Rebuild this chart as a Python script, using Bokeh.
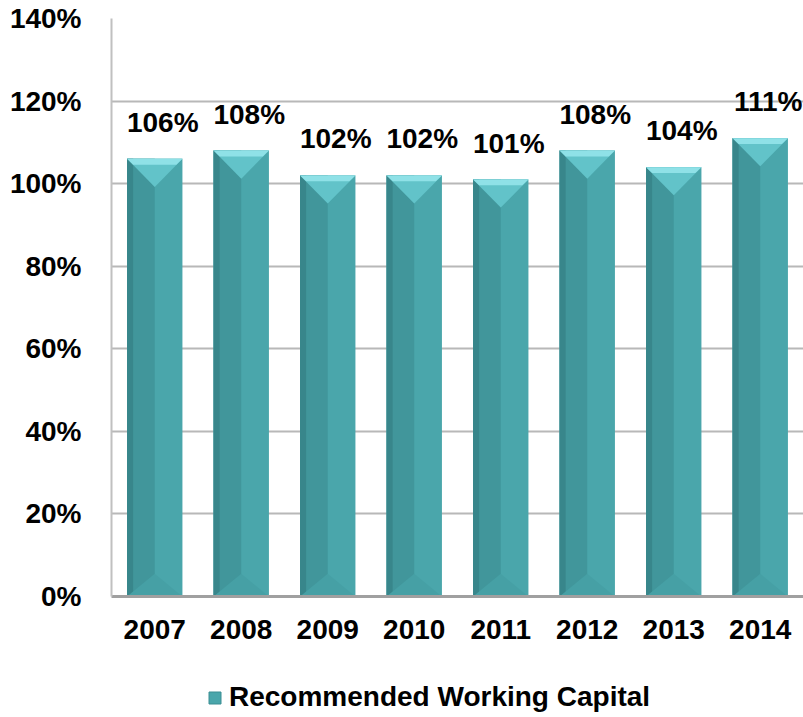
from bokeh.plotting import figure
from bokeh.layouts import column
from bokeh.models import ColumnDataSource, Legend, LegendItem, FixedTicker
from bokeh.core.properties import value
from bokeh.embed import file_html
from bokeh.resources import INLINE

years = ["2007", "2008", "2009", "2010", "2011", "2012", "2013", "2014"]
working_capital = [106, 108, 102, 102, 101, 108, 104, 111]
series_name = "Recommended Working Capital"
y_ticks = [0, 20, 40, 60, 80, 100, 120, 140]

FONT = "Liberation Sans"
HW = 0.32          # half bar width (category units)
CAP = 6.8          # depth of top bevel (value units)
BAND = 1.4
BOT = 5.5
BODY = "#4aa6ab"

n = len(years)
cx = [i + 0.5 for i in range(n)]

p = figure(width=803, height=660, output_backend="svg", toolbar_location=None,
           x_range=(0, n), y_range=(0, 140),
           min_border_left=111, min_border_top=18, min_border_right=0, min_border_bottom=64)
p.outline_line_color = None
p.background_fill_color = "white"
p.border_fill_color = "white"

# bar pieces
p.quad(left=[c - HW for c in cx], right=[c + HW for c in cx], bottom=0, top=working_capital,
       fill_color=BODY, line_color=None)
p.quad(left=[c - HW for c in cx], right=cx, bottom=0, top=working_capital,
       fill_color="#41969b", line_color=None)
p.quad(left=[c - HW for c in cx], right=[c - HW + 0.07 for c in cx], bottom=0, top=working_capital,
       fill_color="#38868b", line_color=None)
p.patches(xs=[[c - HW, c + HW, c] for c in cx], ys=[[0, 0, BOT] for _ in cx],
          fill_color="#46a0a5", line_color=None)
p.patches(xs=[[c - HW, c + HW, c] for c in cx], ys=[[v, v, v - CAP] for v in working_capital],
          fill_color="#62c3c9", line_color=None)
p.patches(xs=[[c - HW, c + HW, c + HW - 0.07, c - HW + 0.07] for c in cx],
          ys=[[v, v, v - BAND, v - BAND] for v in working_capital],
          fill_color="#8fe1e7", line_color=None)

# value labels
src = ColumnDataSource(dict(x=cx, y=working_capital, t=[f"{v}%" for v in working_capital]))
p.text(x="x", y="y", text="t", source=src, text_align="center", text_baseline="bottom",
       x_offset=8, y_offset=-21, text_font=value(FONT), text_font_style="bold",
       text_font_size="28px", text_color="black")

# axes
p.xaxis.ticker = FixedTicker(ticks=cx)
p.xaxis.major_label_overrides = {c: y for c, y in zip(cx, years)}
p.yaxis.ticker = FixedTicker(ticks=y_ticks)
p.yaxis.major_label_overrides = {t: f"{t}%" for t in y_ticks}
for ax in (p.xaxis, p.yaxis):
    ax.major_tick_line_color = None
    ax.minor_tick_line_color = None
    ax.major_label_text_font = FONT
    ax.major_label_text_font_style = "bold"
    ax.major_label_text_color = "black"
p.xaxis.major_label_text_font_size = "28px"
p.yaxis.major_label_text_font_size = "28px"
p.xaxis.major_label_standoff = 17
p.yaxis.major_label_standoff = 24
p.xaxis.axis_line_color = "#a0a0a0"
p.xaxis.axis_line_width = 3
p.yaxis.axis_line_color = "#c0c0c0"
p.yaxis.axis_line_width = 2

p.xgrid.grid_line_color = None
p.ygrid.grid_line_color = "#b8b8b8"
p.ygrid.grid_line_width = 2

# legend strip below the chart (frame aligned with the chart frame, starts at x=111)
lg = figure(width=803, height=57, output_backend="svg", toolbar_location=None,
            x_range=(0, 1), y_range=(0, 1), x_axis_location=None, y_axis_location=None,
            min_border_left=111, min_border_right=0, min_border_top=0, min_border_bottom=0)
lg.outline_line_color = None
lg.xgrid.visible = False
lg.ygrid.visible = False
swatch = lg.quad(left=[5], right=[6], top=[5], bottom=[4], fill_color=BODY, line_color="#3b8e93")
legend = Legend(items=[LegendItem(label=series_name, renderers=[swatch])],
                location=(96, 4), orientation="horizontal",
                label_text_font=FONT, label_text_font_style="bold", label_text_font_size="28px",
                label_text_color="black",
                glyph_width=15, glyph_height=15, label_standoff=7,
                padding=0, margin=0,
                border_line_color=None, background_fill_alpha=0)
lg.add_layout(legend, "center")

layout = column(p, lg, spacing=0)
open("out.html", "w").write(file_html(layout, INLINE))
